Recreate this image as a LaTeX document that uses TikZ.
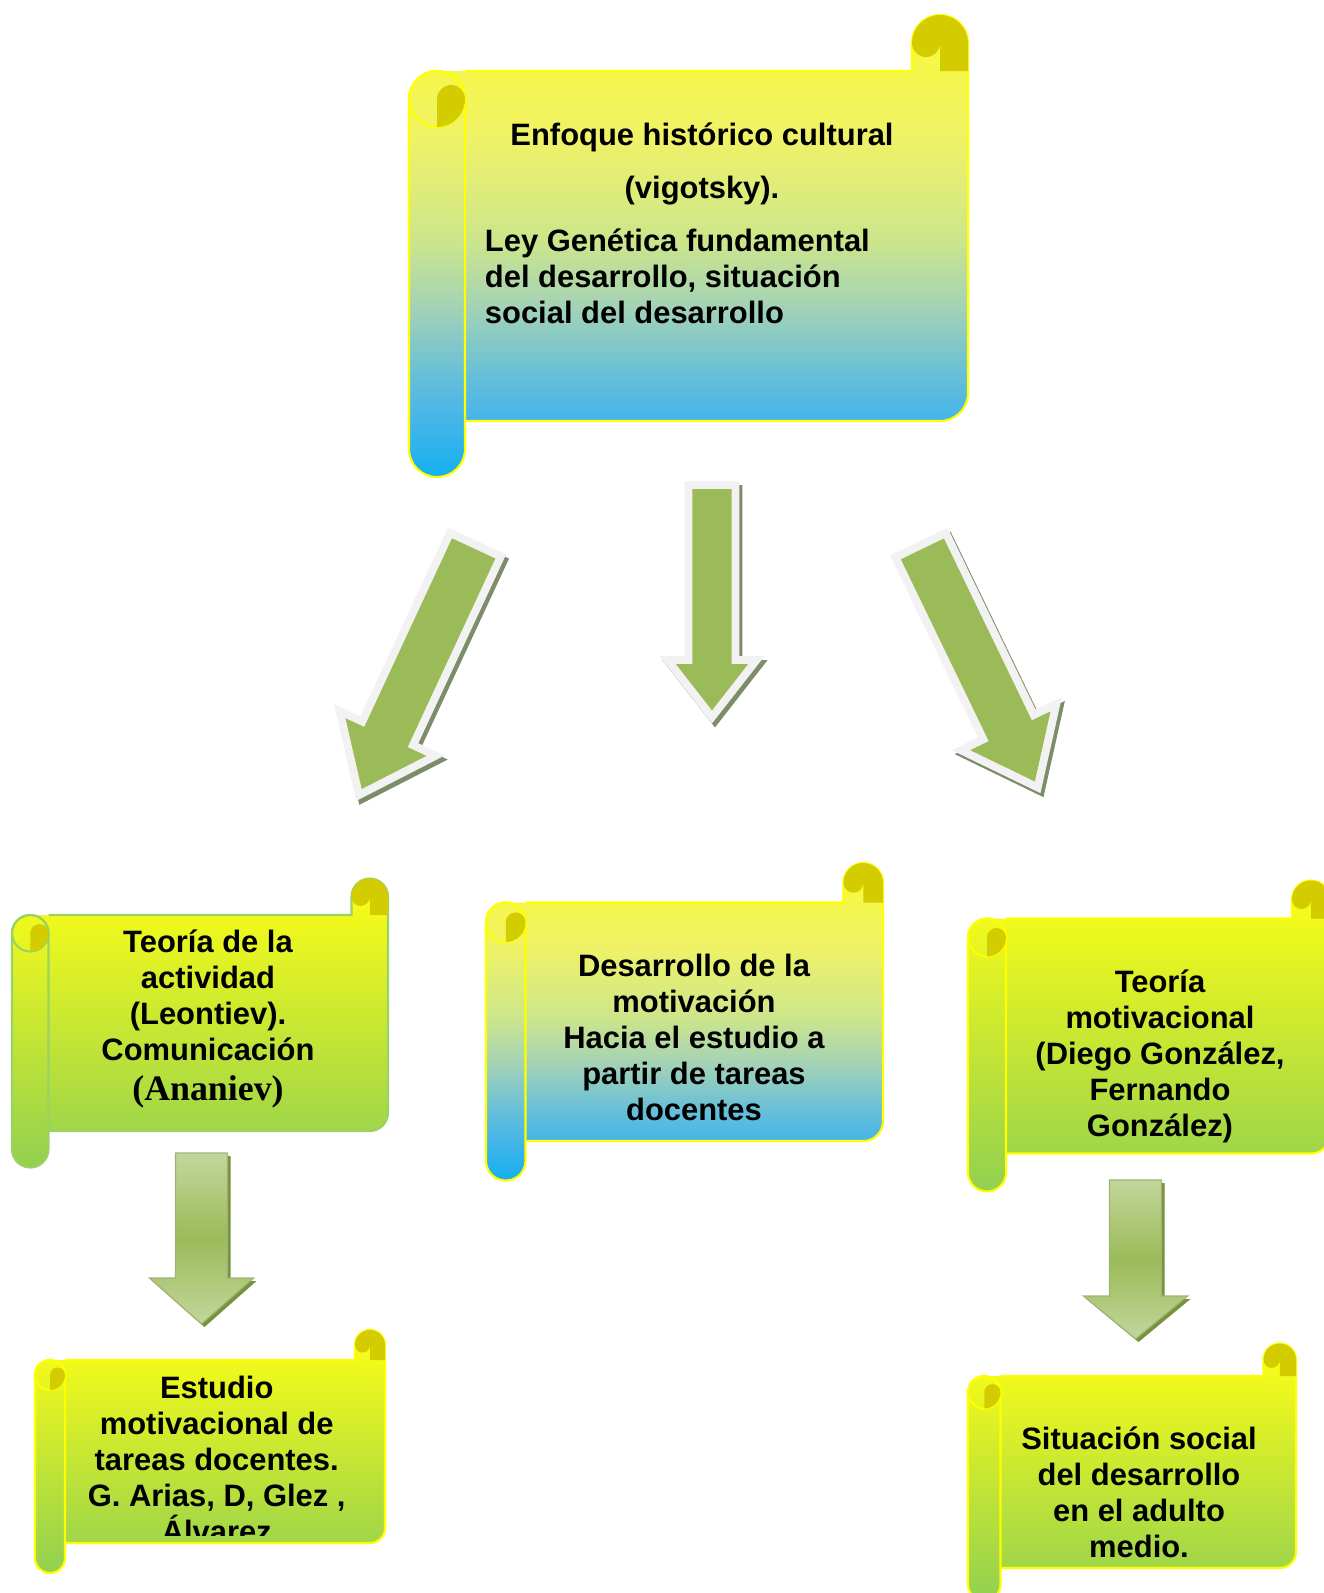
\documentclass[tikz,border=0pt]{standalone}
\usepackage{fontspec}
\setmainfont{Liberation Sans}
\newfontfamily\timesfont{Liberation Serif}
\usetikzlibrary{calc}
\definecolor{lightyellow}{RGB}{255,255,20}
\definecolor{scrollgreen}{RGB}{146,208,80}
\definecolor{curlolive}{RGB}{210,204,0}
\definecolor{edgeyellow}{RGB}{255,255,0}
\definecolor{edgegreen}{RGB}{155,210,100}
\definecolor{arrowgreen}{RGB}{155,187,89}
\definecolor{arrowrim}{RGB}{242,242,242}
\definecolor{arrowshade}{RGB}{125,140,105}
\definecolor{palegreen}{RGB}{195,214,155}
\definecolor{darkolive}{RGB}{118,146,60}
\pgfdeclareverticalshading{yellowblue}{100bp}{rgb(0bp)=(0.08,0.69,0.94);
  rgb(25bp)=(0.08,0.69,0.94); rgb(31.5bp)=(0.28,0.71,0.91); rgb(36bp)=(0.40,0.75,0.85);
  rgb(43bp)=(0.63,0.82,0.72); rgb(50.5bp)=(0.80,0.90,0.55); rgb(62bp)=(0.94,0.95,0.40);
  rgb(75bp)=(0.98,0.98,0.20); rgb(100bp)=(0.98,0.98,0.20)}
\tikzstyle{blue scroll}=[shading=yellowblue]
\tikzstyle{green scroll}=[top color=lightyellow, bottom color=scrollgreen]
\tikzstyle{scrolltext}=[font=\fontsize{17.6}{20.5}\selectfont\bfseries, align=center, inner sep=0pt]
\tikzstyle{big arrow}=[fill=arrowgreen, draw=arrowrim, line width=4.5pt,
  preaction={draw=arrowshade, fill=arrowshade, line width=4.5pt, transform canvas={shift={(3,4)}}}]
\tikzstyle{small arrow}=[draw=darkolive!70, line width=0.7pt, top color=palegreen, bottom color=palegreen,
  middle color=arrowgreen, preaction={fill=darkolive, transform canvas={shift={(3,3)}}}]
\newcommand{\drawscroll}[7]{%
  \pgfmathsetmacro{\scL}{#1}\pgfmathsetmacro{\scR}{#2}%
  \pgfmathsetmacro{\scT}{#3}\pgfmathsetmacro{\scB}{#4}%
  \pgfmathsetmacro{\scC}{#5}\pgfmathsetmacro{\scH}{#5/2}\pgfmathsetmacro{\scQ}{#5/4}%
  \def\scbody{(\scL+\scH,\scT) -- (\scR-\scC,\scT) -- (\scR-\scC,\scT-\scH)
    arc[start angle=180,end angle=360,radius=\scH] -- (\scR,\scB-\scH)
    arc[start angle=0,end angle=90,radius=\scH] -- (\scL+\scH,\scB) -- cycle}%
  \def\scedge{(\scL+\scC,\scT) -- (\scR-\scC,\scT) -- (\scR-\scC,\scT-\scH)
    arc[start angle=180,end angle=360,radius=\scH] -- (\scR,\scB-\scH)
    arc[start angle=0,end angle=90,radius=\scH] -- (\scL+\scC,\scB)}%
  \def\scroll{(\scL,\scT+\scH) arc[start angle=180,end angle=360,radius=\scH]
    -- (\scL+\scC,\scB+\scH) arc[start angle=0,end angle=180,radius=\scH] -- cycle}%
  \begin{scope}
    \clip \scbody;
    \shade[#6] (\scL,\scT-\scC) rectangle (\scR,\scB+\scC);
  \end{scope}
  \draw[#7, line width=1.2pt] \scedge;
  \begin{scope}
    \clip \scroll;
    \shade[#6] (\scL,\scT-\scC) rectangle (\scR,\scB+\scC);
  \end{scope}
  \draw[#7, line width=1.2pt] \scroll;
  \draw[#7, line width=1.2pt] (\scL+\scH,\scT+\scH) circle[radius=\scH];
  \fill[curlolive] (\scL+\scH,\scT+\scH) arc[start angle=180,end angle=360,radius=\scQ]
    arc[start angle=0,end angle=90,radius=\scH] -- cycle;
  \fill[curlolive] (\scR-\scH,\scT) -- (\scR-\scH,\scT-\scH) arc[start angle=0,end angle=180,radius=\scQ]
    arc[start angle=180,end angle=360,radius=\scH] -- (\scR,\scT) -- cycle;
}
\newcommand{\blockarrow}[6]{%
  \coordinate (hb) at ($(#2)!#5*0.02cm!(#1)$);
  \path[#6] ($(#1)!#3*0.02cm!90:(#2)$) -- ($(hb)!#3*0.02cm!90:(#2)$) -- ($(hb)!#4*0.02cm!90:(#2)$)
    -- (#2) -- ($(hb)!#4*0.02cm!-90:(#2)$) -- ($(hb)!#3*0.02cm!-90:(#2)$) -- ($(#1)!#3*0.02cm!-90:(#2)$) -- cycle;
}
\begin{document}
\begin{tikzpicture}[x=0.02cm, y=-0.02cm]
  \useasboundingbox (0,0) rectangle (1324,1593);
  \clip (0,0) rectangle (1324,1593);

  \drawscroll{409}{968}{71}{421}{56}{blue scroll}{edgeyellow}
  \drawscroll{12}{388}{915}{1131}{36.5}{green scroll}{edgegreen}
  \drawscroll{486}{883}{902.5}{1141}{39.5}{blue scroll}{edgeyellow}
  \drawscroll{968}{1330}{918.5}{1153.5}{38}{green scroll}{edgeyellow}
  \drawscroll{35}{385}{1360}{1543}{30}{green scroll}{edgeyellow}
  \drawscroll{968}{1296}{1376}{1568}{32.5}{green scroll}{edgeyellow}

  \node[scrolltext] (enfoque) at (702,164) {Enfoque histórico cultural\\[10pt](vigotsky).};
  \node[scrolltext, align=left, anchor=west] (ley) at (484.6,276.6) {Ley Genética fundamental\\del desarrollo, situación\\social del desarrollo};
  \node[scrolltext] (actividad) at (208,1019) {Teoría de la\\actividad\\(Leontiev).\\Comunicación\\[2pt]{\timesfont\fontsize{20.4}{22}\selectfont(Ananiev)}};
  \node[scrolltext] (motivacion) at (694,1037.4) {Desarrollo de la\\motivación\\Hacia el estudio a\\partir de tareas\\docentes};
  \node[scrolltext] (teoria) at (1160,1056.7) {Teoría\\motivacional\\(Diego González,\\Fernando\\González)};
  \begin{scope}
    \clip (35,1320) rectangle (385,1535);
    \node[scrolltext] (estudio) at (216.7,1459) {Estudio\\motivacional de\\tareas docentes.\\G. Arias, D, Glez ,\\Álvarez};
  \end{scope}
  \node[scrolltext] (situacion) at (1139,1492) {Situación social\\del desarrollo\\en el adulto\\medio.};

  \coordinate (am-s) at (712,485);
  \coordinate (am-e) at (712,717);
  \coordinate (al-s) at (475.4,544.7);
  \coordinate (al-e) at (359,795);
  \coordinate (ar-s) at (920.6,545.2);
  \coordinate (ar-e) at (1037.7,787.4);
  \coordinate (dl-s) at (201.5,1153);
  \coordinate (dl-e) at (201.5,1324);
  \coordinate (dr-s) at (1135.5,1180);
  \coordinate (dr-e) at (1135.5,1339);
  \blockarrow{am-s}{am-e}{23.5}{44.5}{57}{big arrow}
  \blockarrow{al-s}{al-e}{28}{53}{68}{big arrow}
  \blockarrow{ar-s}{ar-e}{28}{53}{67}{big arrow}
  \blockarrow{dl-s}{dl-e}{26}{52}{46}{small arrow}
  \blockarrow{dr-s}{dr-e}{26}{52}{43}{small arrow}
\end{tikzpicture}
\end{document}
